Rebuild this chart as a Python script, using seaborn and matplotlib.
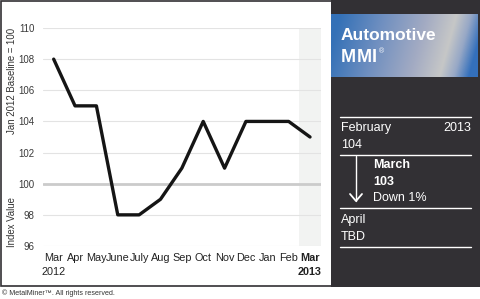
import numpy as np
import pandas as pd
import matplotlib
matplotlib.use("Agg")
import matplotlib.pyplot as plt
import seaborn as sns
from matplotlib.patches import Rectangle
from matplotlib.lines import Line2D
from matplotlib.colors import LinearSegmentedColormap

months = ["Mar", "Apr", "May", "June", "July", "Aug", "Sep", "Oct", "Nov", "Dec", "Jan", "Feb", "Mar"]
values = [108, 105, 105, 98, 98, 99, 101, 104, 101, 104, 104, 104, 103]
yticks = [96, 98, 100, 102, 104, 106, 108, 110]
baseline = 100

sns.set_theme(style="white")
plt.rcParams['font.family'] = ['Liberation Sans Narrow', 'Liberation Sans', 'DejaVu Sans']

W, H = 480, 299
fig = plt.figure(figsize=(W / 100, H / 100), dpi=100)
fig.patch.set_facecolor("white")

def fx(px):
    return px / W

def fy(py):
    return 1 - py / H

DARK = "#323034"

# dark right panel
fig.patches.append(Rectangle((fx(331), fy(286.5)), fx(480) - fx(331), fy(0) - fy(286.5),
                             transform=fig.transFigure, facecolor=DARK, edgecolor="none", zorder=0))
# outer frame
fig.patches.append(Rectangle((fx(0.5), fy(286)), fx(479.5) - fx(0.5), fy(0.5) - fy(286),
                             transform=fig.transFigure, facecolor="none", edgecolor=DARK, linewidth=1.2, zorder=5))

# chart axes
ax = fig.add_axes([fx(43), fy(246), fx(320.7) - fx(43), fy(28) - fy(246)])
df = pd.DataFrame({"x": np.arange(len(months)), "v": values})

ax.set_xlim(-0.5, len(months) - 0.5)
ax.set_ylim(min(yticks), max(yticks))
for t in yticks:
    if t == baseline:
        ax.axhline(t, color="#cbcbcb", lw=2.0, zorder=1)
    else:
        ax.axhline(t, color="#e3e3e3", lw=0.8, zorder=1)
ax.axvspan(len(months) - 1.5, len(months) - 0.5, color="#f2f3f2", zorder=0, lw=0)
sns.lineplot(data=df, x="x", y="v", ax=ax, color="#151515", lw=2.4, zorder=3)
for s in ax.spines.values():
    s.set_visible(False)
ax.set_xlabel("")
ax.set_ylabel("")
ax.set_yticks(yticks)
ax.set_yticklabels([str(t) for t in yticks], fontsize=7, color="#3a3a3a")
ax.set_xticks(np.arange(len(months)))
ax.set_xticklabels(months, fontsize=7.8, color="#222222")
ax.get_xticklabels()[-1].set_fontweight("bold")
ax.tick_params(axis="both", length=0, pad=5)
ax.tick_params(axis="y", pad=6)
ax.grid(False)
ax.set_facecolor("none")
ax.text(0, -0.098, "2012", transform=ax.get_xaxis_transform(), ha="center", va="top",
        fontsize=7.8, color="#222222")
ax.text(len(months) - 1, -0.098, "2013", transform=ax.get_xaxis_transform(), ha="center", va="top",
        fontsize=7.8, color="#222222", fontweight="bold")

# y labels
fig.text(fx(12), fy(28), "Jan 2012 Baseline = 100", rotation=90, ha="center", va="top",
         fontsize=6.9, color="#333333")
fig.text(fx(12), fy(247), "Index Value", rotation=90, ha="center", va="bottom",
         fontsize=6.9, color="#333333")

# footer
fig.text(fx(2), fy(293), "© MetalMiner™. All rights reserved.", ha="left", va="center",
         fontsize=5.1, color="#333333")

# banner gradient
bax = fig.add_axes([fx(331), fy(77), fx(478) - fx(331), fy(14) - fy(77)], zorder=3)
nx, ny = 300, 80
xx, yy = np.meshgrid(np.linspace(0, 1, nx), np.linspace(0, 1, ny))
t = xx + 0.12 * (yy - 0.5)
cmap = LinearSegmentedColormap.from_list("b", [(0, "#3471b7"), (0.3, "#6f8fc0"), (0.6, "#a3abc3"),
                                               (0.8, "#c6c7c7"), (0.9, "#97a8c6"), (1.0, "#3470bc")])
bax.imshow(np.clip(t, 0, 1), cmap=cmap, aspect="auto", extent=(0, 1, 0, 1), vmin=0, vmax=1)
bax.set_axis_off()
bfam = ["Liberation Sans", "DejaVu Sans"]
fig.text(fx(341), fy(36), "Automotive", ha="left", va="center", fontsize=12.5,
         fontweight="bold", color="white", family=bfam, zorder=6)
for letter, px in [("M", 341), ("M", 356.5), ("I", 372)]:
    fig.text(fx(px), fy(58), letter, ha="left", va="center", fontsize=13,
             fontweight="bold", color="white", family=bfam, zorder=6)
fig.text(fx(379), fy(52), "®", ha="left", va="center", fontsize=5,
         color="white", family=bfam, zorder=6)

# panel lines
for py in [117, 155, 208, 247]:
    fig.lines.append(Line2D([fx(340), fx(471)], [fy(py), fy(py)], transform=fig.transFigure,
                            color="white", lw=1.0))

fs = 9
fig.text(fx(341), fy(128), "February", ha="left", va="center", fontsize=fs, color="white")
fig.text(fx(471), fy(128), "2013", ha="right", va="center", fontsize=fs, color="white")
fig.text(fx(341), fy(145), "104", ha="left", va="center", fontsize=fs, color="white")
fig.text(fx(373), fy(165), "March", ha="left", va="center", fontsize=fs, color="white", fontweight="bold")
fig.text(fx(373), fy(182), "103", ha="left", va="center", fontsize=fs, color="white", fontweight="bold")
fig.text(fx(373), fy(198), "Down 1%", ha="left", va="center", fontsize=fs, color="white")
fig.text(fx(341), fy(220), "April", ha="left", va="center", fontsize=fs, color="white")
fig.text(fx(341), fy(237), "TBD", ha="left", va="center", fontsize=fs, color="white")

# arrow
fig.lines.append(Line2D([fx(356), fx(356)], [fy(156), fy(201)], transform=fig.transFigure,
                        color="white", lw=1.0))
fig.lines.append(Line2D([fx(350), fx(356), fx(362)], [fy(194), fy(201), fy(194)],
                        transform=fig.transFigure, color="white", lw=1.3))

fig.savefig("out.png", dpi=100, facecolor="white")
